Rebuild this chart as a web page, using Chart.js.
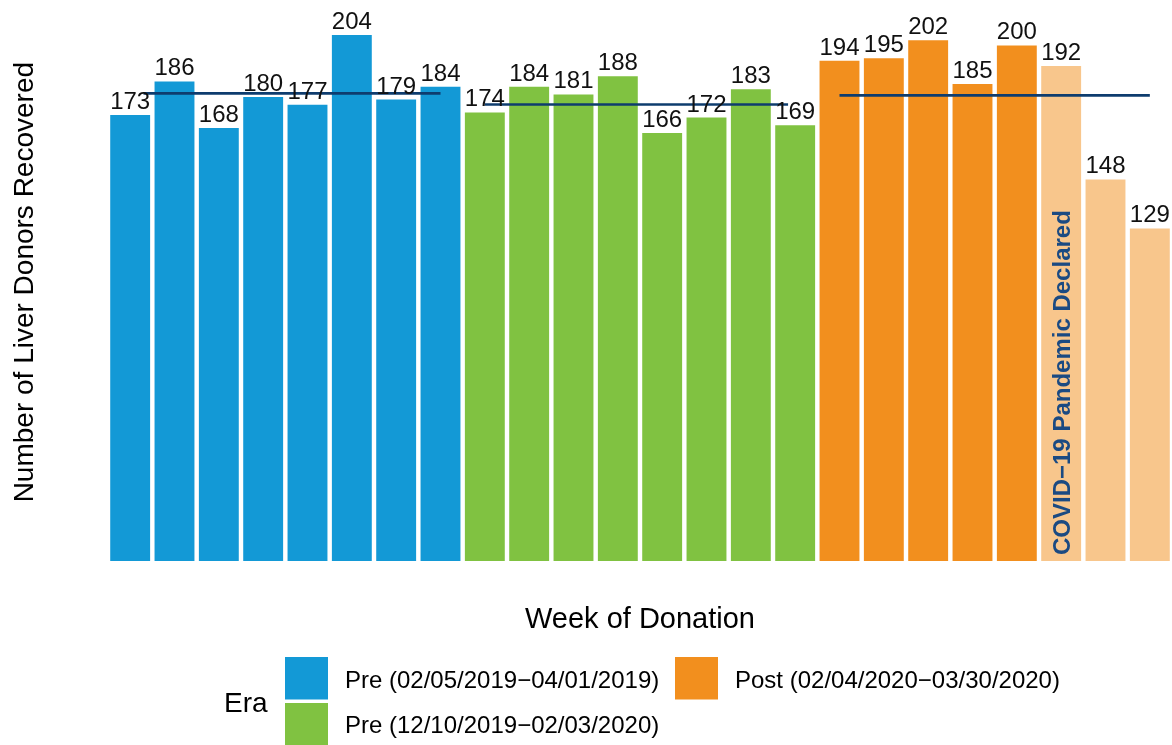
<!DOCTYPE html>
<html lang="en">
<head>
<meta charset="utf-8"/>
<title>Liver donors recovered by week</title>
<script src="https://cdn.jsdelivr.net/npm/chart.js@4.4.3/dist/chart.umd.min.js"></script>
<style>
  * { box-sizing: border-box; }
  body { margin: 0; background: #fff; }
  .wrap { position: relative; width: 1172px; height: 745px; }
</style>
</head>
<body>
<div class="wrap"><canvas id="chart"></canvas></div>
<script>
// --- data --------------------------------------------------------------
const weeks = [1, 2, 3, 4, 5, 6, 7, 8, 9, 10, 11, 12, 13, 14, 15, 16, 17, 18, 19, 20, 21, 22, 23, 24];
const donors = [173, 186, 168, 180, 177, 204, 179, 184,
                174, 184, 181, 188, 166, 172, 183, 169,
                194, 195, 202, 185, 200, 192, 148, 129];
// era per week: 0 = Pre 2019, 1 = Pre 2019/20, 2 = Post, 3 = Post after pandemic declared
const eraOfWeek = [0, 0, 0, 0, 0, 0, 0, 0,
                   1, 1, 1, 1, 1, 1, 1, 1,
                   2, 2, 2, 2, 2, 3, 3, 3];
const eraNames = ['Pre (02/05/2019\u221204/01/2019)', 'Pre (12/10/2019\u221202/03/2020)', 'Post (02/04/2020\u221203/30/2020)'];
// mean lines per era
const meanValue = [181.4, 177.1, 180.6];
const meanStart = [1.3, 9, 17];
const meanEnd = [8, 15.84, 24];
const pandemicWeek = 22;
const pandemicLabel = 'COVID\u221219 Pandemic Declared';

// --- styling -------------------------------------------------------------
const ERA_COLORS = ['#1399d6', '#80c241', '#f28f1e', '#f8c68c'];
const LINE_COLOR = '#0e3c6e';
const FONT = '"Liberation Sans", Arial, Helvetica, sans-serif';

const barDataset = {
  type: 'bar',
  data: weeks.map((w, i) => ({ x: w, y: donors[i] })),
  backgroundColor: eraOfWeek.map((e) => ERA_COLORS[e]),
  borderWidth: 0,
  barPercentage: 0.9,
  categoryPercentage: 1.0,
  order: 1,
};
const meanDatasets = meanValue.map((v, i) => ({
  type: 'line',
  data: [{ x: meanStart[i], y: v }, { x: meanEnd[i], y: v }],
  borderColor: LINE_COLOR,
  borderWidth: 2.6,
  pointRadius: 0,
  fill: false,
  order: 0,
}));

const decorations = {
  id: 'decorations',
  afterDatasetsDraw(chart) {
    const ctx = chart.ctx;
    const x = chart.scales.x;
    const y = chart.scales.y;
    ctx.save();
    // value labels
    ctx.fillStyle = '#111';
    ctx.font = `24px ${FONT}`;
    ctx.textAlign = 'center';
    ctx.textBaseline = 'alphabetic';
    donors.forEach((v, i) => {
      ctx.fillText(String(v), x.getPixelForValue(weeks[i]), y.getPixelForValue(v) - 6);
    });
    // pandemic annotation inside the bar
    ctx.fillStyle = '#1b4a82';
    ctx.font = `bold 24px ${FONT}`;
    ctx.textAlign = 'left';
    ctx.translate(x.getPixelForValue(pandemicWeek) + 9, y.getPixelForValue(0) - 6);
    ctx.rotate(-Math.PI / 2);
    ctx.fillText(pandemicLabel, 0, 0);
    ctx.restore();
  },
  afterDraw(chart) {
    const ctx = chart.ctx;
    const area = chart.chartArea;
    ctx.save();
    ctx.fillStyle = '#000';
    // axis titles
    ctx.font = `29px ${FONT}`;
    ctx.textAlign = 'center';
    ctx.textBaseline = 'alphabetic';
    ctx.fillText('Week of Donation', (area.left + area.right) / 2, 628);
    ctx.font = `28px ${FONT}`;
    ctx.save();
    ctx.translate(33, (area.top + area.bottom) / 2 - 3);
    ctx.rotate(-Math.PI / 2);
    ctx.fillText('Number of Liver Donors Recovered', 0, 0);
    ctx.restore();
    // legend
    ctx.textAlign = 'left';
    ctx.fillText('Era', 224, 712);
    const keys = [
      { x: 285, y: 657, tx: 345, ty: 688 },
      { x: 285, y: 703, tx: 345, ty: 733 },
      { x: 675, y: 657, tx: 735, ty: 688 },
    ];
    ctx.font = `24px ${FONT}`;
    keys.forEach((k, i) => {
      ctx.fillStyle = ERA_COLORS[i];
      ctx.fillRect(k.x, k.y, 43, 42.5);
      ctx.fillStyle = '#000';
      ctx.fillText(eraNames[i], k.tx, k.ty);
    });
    ctx.restore();
  },
};

new Chart(document.getElementById('chart'), {
  data: { datasets: [...meanDatasets, barDataset] },
  options: {
    responsive: true,
    maintainAspectRatio: false,
    animation: false,
    layout: { padding: { left: 108, right: 0, top: 9.3, bottom: 184 } },
    plugins: { legend: { display: false }, tooltip: { enabled: false } },
    scales: {
      x: { type: 'linear', min: 0.5, max: 24.5, offset: false, display: false },
      y: { type: 'linear', min: 0, max: 214, display: false },
    },
  },
  plugins: [decorations],
});
</script>
</body>
</html>
